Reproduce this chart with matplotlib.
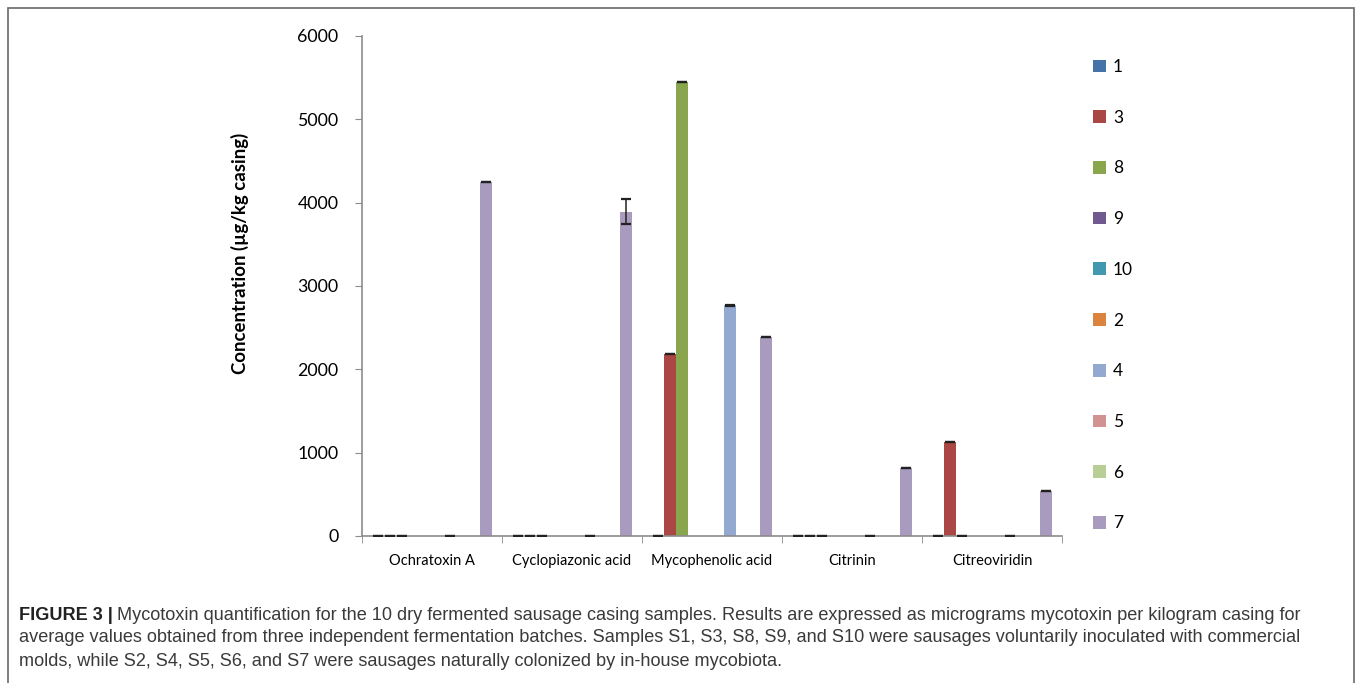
import numpy as np
import matplotlib
matplotlib.use("Agg")
from matplotlib import pyplot as plt
from matplotlib.patches import Patch, Rectangle

# mycotoxins on the x axis
toxins = ["Ochratoxin A", "Cyclopiazonic acid", "Mycophenolic acid", "Citrinin", "Citreoviridin"]

# samples in the order of the legend
samples = ["1", "3", "8", "9", "10", "2", "4", "5", "6", "7"]
sample_colours = ["#4572A7", "#AA4643", "#89A54E", "#71588F", "#4198AF",
                  "#DB843D", "#93A9CF", "#D19392", "#B9CD96", "#A99BBD"]

# mean concentration (ug/kg casing), one list per sample, same order as toxins
conc_1 = [0, 0, 0, 0, 0]
conc_3 = [0, 0, 2185, 0, 1130]
conc_8 = [0, 0, 5450, 0, 0]
conc_9 = [0, 0, 0, 0, 0]
conc_10 = [0, 0, 0, 0, 0]
conc_2 = [0, 0, 0, 0, 0]
conc_4 = [0, 0, 2770, 0, 0]
conc_5 = [0, 0, 0, 0, 0]
conc_6 = [0, 0, 0, 0, 0]
conc_7 = [4250, 3890, 2390, 815, 540]

# standard deviations, None where the sample has no error bars
err_1 = [3, 3, 3, 3, 3]
err_3 = [3, 3, 4, 3, 4]
err_8 = [3, 3, 4, 3, 3]
err_9 = None
err_10 = None
err_2 = None
err_4 = [3, 3, 4, 3, 3]
err_5 = None
err_6 = None
err_7 = [4, 150, 4, 4, 4]

concs = [conc_1, conc_3, conc_8, conc_9, conc_10, conc_2, conc_4, conc_5, conc_6, conc_7]
errs = [err_1, err_3, err_8, err_9, err_10, err_2, err_4, err_5, err_6, err_7]

W, H = 1357, 683
fig = plt.figure(figsize=(W / 100, H / 100), dpi=100)
ax = fig.add_axes([362 / W, 1 - 536 / H, 700 / W, 500 / H])

axis_font = "Lato"
x = np.arange(len(toxins))
gap = 10 / 140
bar_w = (1 - 2 * gap) / len(samples)

for i, (vals, err, col) in enumerate(zip(concs, errs, sample_colours)):
    pos = x - 0.5 + gap + bar_w * (i + 0.5)
    ax.bar(pos, vals, width=bar_w, color=col, edgecolor="none", zorder=2)
    if err is not None:
        ax.errorbar(pos, vals, yerr=err, fmt="none", ecolor="#222222", elinewidth=1.1,
                    capsize=3.6, capthick=1.6, zorder=3)

ax.set_xlim(-0.5, len(toxins) - 0.5)
ax.set_ylim(0, 6000)
ax.set_yticks(np.arange(0, 6001, 1000))
ax.set_xticks(x)
ax.set_xticklabels(toxins, fontsize=10.5, family=axis_font)
ax.set_xticks(np.arange(-0.5, len(toxins)), minor=True)
ax.tick_params(axis="x", which="major", length=0, pad=13)
ax.tick_params(axis="x", which="minor", length=5, color="#8c8c8c", direction="out")
ax.tick_params(axis="y", length=5, color="#8c8c8c", direction="out", pad=12)
for lab in ax.get_yticklabels():
    lab.set_fontsize(12.8)
    lab.set_family(axis_font)

for side in ["top", "right"]:
    ax.spines[side].set_visible(False)
for side in ["left", "bottom"]:
    ax.spines[side].set_color("#8c8c8c")
    ax.spines[side].set_linewidth(1.2)

fig.text(240 / W, 1 - 253 / H, "Concentration (µg/kg casing)", rotation=90,
         ha="center", va="center", fontsize=13.4, fontweight="bold", family=axis_font)

handles = [Patch(facecolor=c, edgecolor="none") for c in sample_colours]
fig.legend(handles, samples, loc="upper left", bbox_to_anchor=(1086 / W, 1 - 52 / H),
           frameon=False, prop={"family": axis_font, "size": 12.5},
           handlelength=0.75, handleheight=0.75, handletextpad=0.4, labelspacing=2.0,
           borderaxespad=0)

# frame around chart and caption
fig.patches.append(Rectangle((8 / W, -0.01), (1354 - 8) / W, 1.01 - 8 / H,
                             transform=fig.transFigure, fill=False,
                             edgecolor="#6a6a6a", linewidth=1.2))

# caption
cap_font = ["Liberation Sans Narrow", "Liberation Sans"]
cap_col = "#3a3a3a"
cap_size = 13.1
renderer = fig.canvas.get_renderer()
head = fig.text(19 / W, 1 - 615 / H, "FIGURE 3 |", fontsize=cap_size, fontweight="bold",
                family=cap_font, color="#222222", va="center")
hx = head.get_window_extent(renderer).x1
fig.text((hx + 4) / W, 1 - 615 / H,
         "Mycotoxin quantification for the 10 dry fermented sausage casing samples. Results are "
         "expressed as micrograms mycotoxin per kilogram casing for",
         fontsize=cap_size, family=cap_font, color=cap_col, va="center")
fig.text(19 / W, 1 - 638 / H,
         "average values obtained from three independent fermentation batches. Samples S1, S3, S8, S9, "
         "and S10 were sausages voluntarily inoculated with commercial",
         fontsize=cap_size, family=cap_font, color=cap_col, va="center")
fig.text(19 / W, 1 - 661 / H,
         "molds, while S2, S4, S5, S6, and S7 were sausages naturally colonized by in-house mycobiota.",
         fontsize=cap_size, family=cap_font, color=cap_col, va="center")

fig.savefig("out.png", dpi=100)
